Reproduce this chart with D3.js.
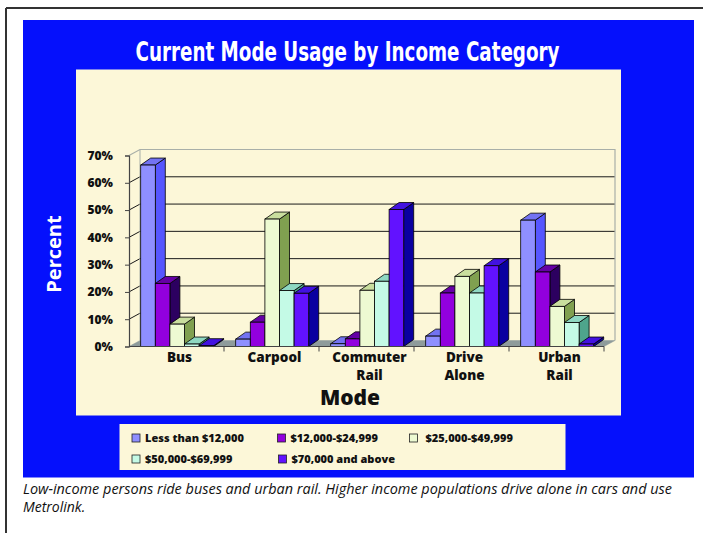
<!DOCTYPE html>
<html>
<head>
<meta charset="utf-8">
<script src="https://cdn.jsdelivr.net/npm/d3@7"></script>
<style>
  html, body { margin: 0; padding: 0; background: #fff; }
  svg { display: block; }
</style>
</head>
<body>
<div id="chart"></div>
<script>
// ---------- data ----------
const categories = [["Bus"], ["Carpool"], ["Commuter", "Rail"], ["Drive", "Alone"], ["Urban", "Rail"]];
const seriesNames = ["Less  than $12,000", "$12,000-$24,999", "$25,000-$49,999", "$50,000-$69,999", "$70,000 and above"];
const lessThan12k   = [66.5, 2.7, 1.0, 3.8, 46.3];
const from12kTo25k  = [23.1, 8.9, 2.8, 19.6, 27.3];
const from25kTo50k  = [8.2, 46.7, 20.6, 25.7, 14.7];
const from50kTo70k  = [0.9, 20.5, 23.9, 19.6, 8.8];
const above70k      = [0.3, 19.5, 50.2, 29.6, 0.9];
const yTicks = [0, 10, 20, 30, 40, 50, 60, 70];
const seriesValues = [lessThan12k, from12kTo25k, from25kTo50k, from50kTo70k, above70k];

// colours: [front, side, top]
const seriesColors = [
  ["#8F8FFF", "#5656FF", "#7373F2"],
  ["#9200DE", "#2C0060", "#6500A6"],
  ["#EDFAD2", "#80A050", "#C9DE9E"],
  ["#C4FAE6", "#4EA58C", "#8ED8C2"],
  ["#6212FF", "#0A00A0", "#4212E0"]
];

const W = 703, H = 533;
const svg = d3.select("#chart").append("svg").attr("width", W).attr("height", H)
  .style("font-family", "'Open Sans', 'DejaVu Sans', sans-serif");

// outer frame
svg.append("rect").attr("width", W).attr("height", H).attr("fill", "#fff");
svg.append("line").attr("x1", 6).attr("x2", W).attr("y1", 8).attr("y2", 8).attr("stroke", "#333").attr("stroke-width", 2);
svg.append("line").attr("x1", 6).attr("x2", 6).attr("y1", 8).attr("y2", H).attr("stroke", "#333").attr("stroke-width", 2);

// blue background
svg.append("rect").attr("x", 23).attr("y", 20).attr("width", 671).attr("height", 457.5).attr("fill", "#0510FC");

// title
svg.append("text").attr("x", 347.5).attr("y", 61).attr("text-anchor", "middle")
  .attr("fill", "#fff").attr("font-size", 27).attr("font-weight", 700)
  .style("font-family", "'Liberation Sans Narrow', 'DejaVu Sans Condensed', 'Open Sans', sans-serif")
  .attr("textLength", 424).attr("lengthAdjust", "spacingAndGlyphs")
  .text("Current Mode Usage by Income Category");

// cream panel
svg.append("rect").attr("x", 76).attr("y", 69.5).attr("width", 545).attr("height", 346).attr("fill", "#FCF7D8");

// "Percent" axis title
svg.append("text").attr("transform", "translate(61,254) rotate(-90)")
  .attr("text-anchor", "middle").attr("fill", "#fff").attr("font-size", 20).attr("font-weight", 700)
  .text("Percent");

// ---------- scales ----------
const x0 = 129, x1 = 604, yBase = 346.5, yTop = 155.5;
const DX = 11, DY = -6;        // wall / floor depth
const BDX = 10, BDY = -7;      // bar depth
const x = d3.scaleBand().domain(d3.range(categories.length)).range([x0, x1]).paddingInner(0).paddingOuter(0);
const xs = d3.scaleBand().domain(d3.range(seriesNames.length)).range([0, 73]);
const groupOffset = 11.7;
const y = d3.scaleLinear().domain([0, 70]).range([yBase, yTop]);

const plot = svg.append("g");

// floor
plot.append("path")
  .attr("d", `M${x0},${yBase} L${x1},${yBase} L${x1 + DX},${yBase + DY} L${x0 + DX},${yBase + DY} Z`)
  .attr("fill", "#8E9B9B").attr("stroke", "#8E9B9B").attr("stroke-width", 0.5);

// back wall & side wall gridlines
yTicks.filter(t => t > 0 && t < 70).forEach(t => {
  plot.append("line").attr("x1", x0 + DX).attr("x2", x1 + DX)
    .attr("y1", y(t) + DY).attr("y2", y(t) + DY)
    .attr("stroke", "#1a1a1a").attr("stroke-width", 1);
  plot.append("line").attr("x1", x0).attr("x2", x0 + DX)
    .attr("y1", y(t)).attr("y2", y(t) + DY)
    .attr("stroke", "#1a1a1a").attr("stroke-width", 1);
});
// wall outline
plot.append("path")
  .attr("d", `M${x0},${y(70)} L${x0 + DX},${y(70) + DY} L${x1 + DX},${y(70) + DY} L${x1 + DX},${yBase + DY}`)
  .attr("fill", "none").attr("stroke", "#A8AFA8").attr("stroke-width", 1.2);
plot.append("line").attr("x1", x0 + DX).attr("x2", x0 + DX).attr("y1", y(70) + DY).attr("y2", yBase + DY)
  .attr("stroke", "#A8AFA8").attr("stroke-width", 1);

// ---------- bars ----------
categories.forEach((cat, ci) => {
  const g = plot.append("g");
  seriesValues.forEach((vals, si) => {
    const v = vals[ci];
    const bx = x(ci) + groupOffset + xs(si);
    const bw = xs.bandwidth();
    const by = y(v);
    const c = seriesColors[si];
    g.append("path")
      .attr("d", `M${bx + bw},${by} L${bx + bw + BDX},${by + BDY} L${bx + bw + BDX},${yBase + BDY} L${bx + bw},${yBase} Z`)
      .attr("fill", c[1]).attr("stroke", "#000").attr("stroke-width", 0.8).attr("stroke-linejoin", "round");
    g.append("path")
      .attr("d", `M${bx},${by} L${bx + BDX},${by + BDY} L${bx + bw + BDX},${by + BDY} L${bx + bw},${by} Z`)
      .attr("fill", c[2]).attr("stroke", "#000").attr("stroke-width", 0.8).attr("stroke-linejoin", "round");
    g.append("rect").attr("x", bx).attr("y", by).attr("width", bw).attr("height", yBase - by)
      .attr("fill", c[0]).attr("stroke", "#000").attr("stroke-width", 0.8);
  });
});

// ---------- axes ----------
const yAxis = d3.axisLeft(y).tickValues(yTicks).tickFormat(d => d + "%").tickSize(4).tickPadding(12);
const gy = svg.append("g").attr("transform", `translate(${x0},0)`).call(yAxis);
gy.select(".domain").attr("stroke", "#444").attr("stroke-width", 1.2);
gy.selectAll(".tick line").attr("stroke", "#444");
gy.selectAll(".tick text").attr("font-size", 12).attr("font-weight", 800).attr("fill", "#111")
  .style("font-family", "'Open Sans', 'DejaVu Sans', sans-serif");

svg.append("line").attr("x1", x0).attr("x2", x1).attr("y1", yBase).attr("y2", yBase)
  .attr("stroke", "#444").attr("stroke-width", 1.2);
categories.forEach((c, ci) => {
  const tx = x(ci) + x.bandwidth();
  svg.append("line").attr("x1", tx).attr("x2", tx).attr("y1", yBase).attr("y2", yBase + 5)
    .attr("stroke", "#444").attr("stroke-width", 1);
});

// category labels (one text per line)
categories.forEach((lines, ci) => {
  lines.forEach((ln, li) => {
    svg.append("text").attr("text-anchor", "middle").attr("font-size", 13.5).attr("font-weight", 800)
      .attr("fill", "#111").attr("x", x(ci) + x.bandwidth() / 2 + 3).attr("y", 362 + li * 18).text(ln);
  });
});

// "Mode"
svg.append("text").attr("x", 350).attr("y", 405).attr("text-anchor", "middle")
  .attr("font-size", 21).attr("font-weight", 800).attr("fill", "#111").text("Mode");

// ---------- legend ----------
svg.append("rect").attr("x", 119.5).attr("y", 424).attr("width", 446).attr("height", 46).attr("fill", "#FCF7D8");
const legendCols = [132, 277.5, 409.5];
const legendRowY = [438, 459];
seriesNames.forEach((name, i) => {
  const row = i < 3 ? 0 : 1;
  const col = i < 3 ? i : i - 3;
  const lx = legendCols[col] + (row === 1 && col === 1 ? 1 : 0);
  const ly = legendRowY[row];
  svg.append("rect").attr("x", lx).attr("y", ly - 4).attr("width", 8).attr("height", 8)
    .attr("fill", seriesColors[i][0]).attr("stroke", "#222").attr("stroke-width", 0.8);
  svg.append("text").attr("x", lx + (col === 2 ? 16 : 13)).attr("y", ly).attr("dy", "0.35em")
    .attr("font-size", 11).attr("font-weight", 800).attr("fill", "#111").text(name);
});

// ---------- caption ----------
svg.append("text").attr("x", 23).attr("y", 494).attr("font-size", 14).attr("font-style", "italic")
  .attr("fill", "#111").attr("textLength", 649).attr("lengthAdjust", "spacingAndGlyphs")
  .text("Low-income persons ride buses and urban rail. Higher income populations drive alone in cars and use");
svg.append("text").attr("x", 23).attr("y", 512).attr("font-size", 14).attr("font-style", "italic")
  .attr("fill", "#111").text("Metrolink.");
</script>
</body>
</html>
